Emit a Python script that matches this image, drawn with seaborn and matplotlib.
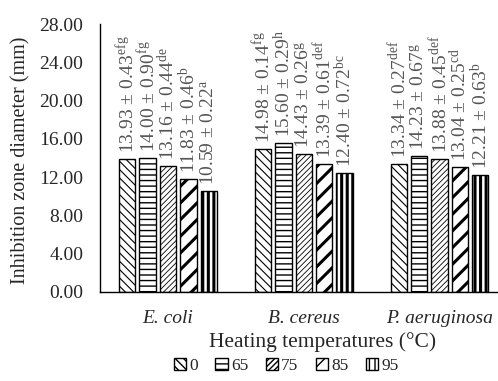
import pandas as pd
import matplotlib.pyplot as plt
import seaborn as sns
from matplotlib.patches import Patch

# values
bacteria = ["E. coli", "B. cereus", "P. aeruginosa"]
temps = ["0", "65", "75", "85", "95"]
means = {
    "E. coli":       [13.93, 14.00, 13.16, 11.83, 10.59],
    "B. cereus":     [14.98, 15.60, 14.43, 13.39, 12.40],
    "P. aeruginosa": [13.34, 14.23, 13.88, 13.04, 12.21],
}
sds = {
    "E. coli":       [0.43, 0.90, 0.44, 0.46, 0.22],
    "B. cereus":     [0.14, 0.29, 0.26, 0.61, 0.72],
    "P. aeruginosa": [0.27, 0.67, 0.45, 0.25, 0.63],
}
letters = {
    "E. coli":       ["efg", "fg", "de", "b", "a"],
    "B. cereus":     ["fg", "h", "g", "def", "bc"],
    "P. aeruginosa": ["def", "g", "def", "cd", "b"],
}
hatches = ["\\\\\\\\", "---", "//////", "//", "|||"]
hatch_lw = [0.8, 1.0, 0.6, 2.2, 2.2]

rows = []
for b in bacteria:
    for i, t in enumerate(temps):
        rows.append({"bacteria": b, "temp": t, "mean": means[b][i]})
df = pd.DataFrame(rows)

sns.set_style("white")
plt.rcParams["font.family"] = ["Liberation Serif", "DejaVu Serif"]
plt.rcParams["mathtext.fontset"] = "custom"
plt.rcParams["mathtext.rm"] = "Liberation Serif"
plt.rcParams["mathtext.it"] = "Liberation Serif:italic"

fig = plt.figure(figsize=(4.98, 3.81), dpi=100)
ax = fig.add_axes([0.201, 0.234, 0.799, 0.703])

sns.barplot(data=df, x="bacteria", y="mean", hue="temp", order=bacteria,
            hue_order=temps, width=0.75, gap=0.2, errorbar=None,
            color="white", edgecolor="black", linewidth=1.0, ax=ax)

for i, cont in enumerate(ax.containers):
    for j, bar in enumerate(cont):
        bar.set_facecolor("white")
        bar.set_hatch(hatches[i])
        if hasattr(bar, "set_hatch_linewidth"):
            bar.set_hatch_linewidth(hatch_lw[i])
        b = bacteria[j]
        x = bar.get_x() + bar.get_width() / 2
        h = bar.get_height()
        ax.text(x, h + 0.6,
                f"{means[b][i]:.2f} ± {sds[b][i]:.2f}$^{{\\mathrm{{{letters[b][i]}}}}}$",
                rotation=90, ha="center", va="bottom", fontsize=14,
                color="#555555")

ax.set_ylim(0, 28)
ax.set_xlim(-0.5, 2.43)
ax.set_yticks(range(0, 29, 4))
ax.set_yticklabels([f"{v:.2f}" for v in range(0, 29, 4)], fontsize=14)
ax.set_xticks(range(3))
ax.set_xticklabels(bacteria, fontsize=14, style="italic")
ax.tick_params(axis="y", length=0, pad=12)
ax.tick_params(axis="x", length=0, pad=13)
ax.set_xlabel("Heating temperatures (°C)", fontsize=15.5)
ax.xaxis.set_label_coords(0.56, -0.15)
ax.set_ylabel("Inhibition zone diameter (mm)", fontsize=14.5)
ax.yaxis.set_label_coords(-0.175, 0.49)
sns.despine(ax=ax)
for s in ["left", "bottom"]:
    ax.spines[s].set_color("black")
    ax.spines[s].set_linewidth(1.0)

ax.get_legend().remove()
handles = [Patch(facecolor="white", edgecolor="black", hatch=h) for h in hatches]
fig.legend(handles, temps, loc="lower center", bbox_to_anchor=(0.575, -0.022),
           ncol=5, frameon=False, fontsize=12.5, handlelength=0.7,
           handleheight=0.7, handletextpad=0.2, columnspacing=1.0)

fig.savefig("out.png", dpi=100)
